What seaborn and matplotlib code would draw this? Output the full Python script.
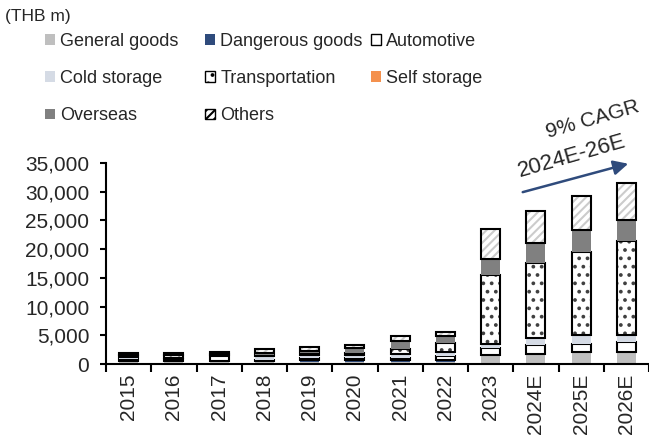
import numpy as np
import matplotlib
matplotlib.use("Agg")
import matplotlib.pyplot as plt
from matplotlib.patches import Patch
from matplotlib.ticker import FuncFormatter, FixedLocator
import seaborn as sns

years = ['2015', '2016', '2017', '2018', '2019', '2020', '2021', '2022',
         '2023', '2024E', '2025E', '2026E']
general = [350, 350, 350, 300, 350, 350, 400, 350, 1400, 1550, 1900, 1950]
dangerous = [250, 250, 200, 300, 300, 300, 300, 300, 150, 150, 170, 170]
automotive = [300, 300, 800, 100, 350, 350, 350, 700, 1200, 1600, 1450, 1650]
cold = [250, 200, 150, 700, 500, 600, 750, 700, 700, 1150, 1450, 1250]
transportation = [350, 400, 250, 200, 400, 300, 850, 1550, 12000, 13200, 14550, 16350]
self_storage = [0, 0, 0, 0, 0, 0, 0, 0, 0, 0, 0, 0]
overseas = [0, 0, 0, 300, 400, 800, 1400, 1200, 2800, 3450, 3800, 3750]
others = [500, 500, 400, 650, 600, 600, 850, 850, 5200, 5550, 5900, 6450]

series = [
    ("General goods", general),
    ("Dangerous goods", dangerous),
    ("Automotive", automotive),
    ("Cold storage", cold),
    ("Transportation", transportation),
    ("Self storage", self_storage),
    ("Overseas", overseas),
    ("Others", others),
]
# fill, hatch, hatch colour, black outline?
styles = {
    "General goods": ("#bfbfbf", None, None, False),
    "Dangerous goods": ("#2f4b7c", None, None, False),
    "Automotive": ("white", None, None, True),
    "Cold storage": ("#d5dbe5", None, None, False),
    "Transportation": ("white", "..", "#404040", True),
    "Self storage": ("#f4914e", None, None, False),
    "Overseas": ("#808080", None, None, False),
    "Others": ("white", "////", "#cccccc", True),
}

sns.set_style("white")
plt.rcParams["font.family"] = ["Liberation Sans", "DejaVu Sans"]
plt.rcParams["hatch.linewidth"] = 1.5

fig = plt.figure(figsize=(6.49, 4.43), dpi=100)
ax = fig.add_axes([106 / 649, 1 - 364 / 443, 543 / 649, 201 / 443])

W = 0.42
pos = np.arange(len(years))
bottom = np.zeros(len(years))
for name, vals in series:
    vals = np.array(vals, dtype=float)
    fc, hatch, hc, outline = styles[name]
    if hatch:
        sns.barplot(x=years, y=vals, bottom=bottom, color=fc, saturation=1,
                    width=W, edgecolor=hc, linewidth=0, hatch=hatch,
                    errorbar=None, ax=ax)
        ax.bar(pos, vals, W, bottom=bottom, fill=False, edgecolor="black",
               linewidth=1.5)
    else:
        sns.barplot(x=years, y=vals, bottom=bottom, color=fc, saturation=1,
                    width=W, edgecolor="black" if outline else fc,
                    linewidth=1.5 if outline else 0, errorbar=None, ax=ax)
    bottom += vals

ax.set_xlim(-0.5, len(years) - 0.5)
ax.set_ylim(0, 35000)
ax.yaxis.set_major_locator(FixedLocator(np.arange(0, 35001, 5000)))
ax.yaxis.set_major_formatter(FuncFormatter(lambda v, p: f"{int(v):,}"))
ax.set_xticks(pos)
ax.set_xticklabels(years, rotation=90)
ax.xaxis.set_minor_locator(FixedLocator(np.arange(-0.5, len(years), 1)))
ax.tick_params(axis="x", which="major", length=0, pad=7, labelsize=15)
ax.tick_params(axis="x", which="minor", length=6, width=1.5, direction="out",
               bottom=True, color="black")
ax.tick_params(axis="y", length=4, width=1.5, direction="out", left=True,
               pad=8, labelsize=15, color="black")
ax.set_xlabel("")
ax.set_ylabel("")
for s in ["top", "right"]:
    ax.spines[s].set_visible(False)
for s in ["left", "bottom"]:
    ax.spines[s].set_color("black")
    ax.spines[s].set_linewidth(1.5)

fig.text(5 / 649, 1 - 17 / 443, "(THB m)", fontsize=12.5, va="center", ha="left")

# legend, laid out in three columns like the source
def handle(name):
    fc, hatch, hc, outline = styles[name]
    if hatch:
        return Patch(facecolor=fc, edgecolor="black", hatch=hatch, linewidth=1)
    return Patch(facecolor=fc, edgecolor="black" if outline else fc,
                 linewidth=1 if outline else 0)

columns = [
    (45, ["General goods", "Cold storage", "Overseas"]),
    (205, ["Dangerous goods", "Transportation", "Others"]),
    (371, ["Automotive", "Self storage"]),
]
for x0, names in columns:
    fig.legend([handle(n) for n in names], names, loc="upper left",
               bbox_to_anchor=(x0 / 649, 1 - 33 / 443), frameon=False,
               fontsize=13, handlelength=0.55, handleheight=0.55,
               handletextpad=0.3, labelspacing=1.12, borderpad=0,
               borderaxespad=0)

# CAGR arrow
ax.annotate("", xy=(11.1, 35000), xytext=(8.65, 29800),
            arrowprops=dict(arrowstyle="-|>", color="#2f4b7c", lw=1.8,
                            mutation_scale=22),
            annotation_clip=False)
ax.text(10.25, 42600, "9% CAGR", rotation=16, ha="center", va="center",
        rotation_mode="anchor", fontsize=15, clip_on=False)
ax.text(9.8, 36100, "2024E-26E", rotation=16, ha="center", va="center",
        rotation_mode="anchor", fontsize=16, clip_on=False)

fig.savefig("out.png", dpi=100)
